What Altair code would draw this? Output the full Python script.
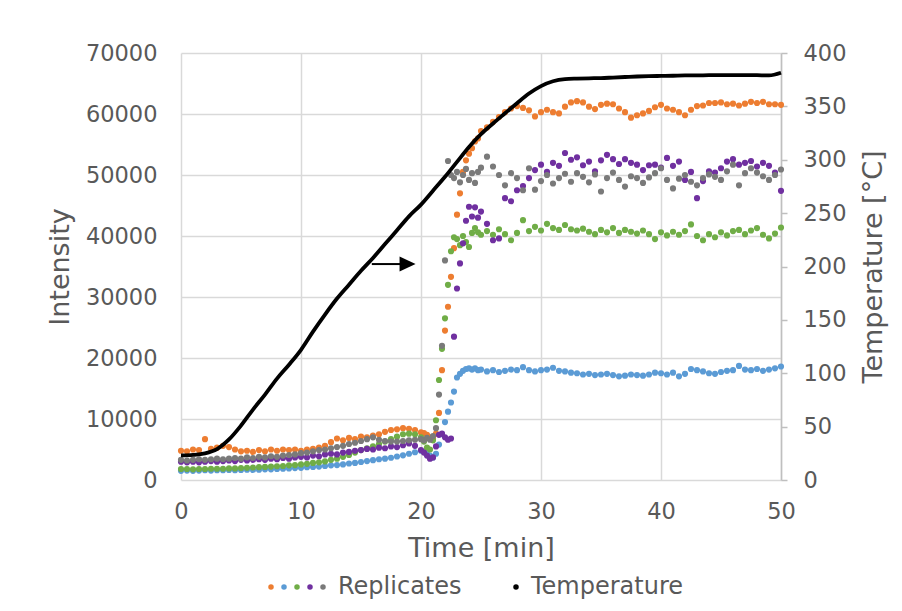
import altair as alt
import pandas as pd

# ---------------- data ----------------
# sampling times of the replicate measurements [min]
times = ([i * 0.5 for i in range(41)]
         + [20.25 + 0.25 * i for i in range(20)]
         + [25.5 + 0.5 * i for i in range(50)])

orange = ([4800, 4700, 5000, 4900, 6700, 5100, 5300, 5600, 5400, 5000,
           4700, 4800, 4600, 4900, 4700, 5000, 4800, 5000, 4900, 5000,
           4800, 5000, 5100, 5300, 5600, 6200, 6800, 6500, 6900, 6700,
           7100, 7000, 7300, 7500, 7900, 8200, 8300, 8500, 8400, 8200,
           7800]
          + [7700, 7400, 7000, 6800, 7600, 11000, 18000, 24500, 28400, 33300,
             38000, 43500, 47000, 50500, 52400, 53500, 54400, 55500, 56000, 57200]
          + [57800, 58700, 59500, 60300, 60900, 61300, 61000, 60600, 59600, 60300,
             60700, 60300, 60100, 61200, 61900, 62100, 61900, 61200, 60800, 61500,
             61700, 61600, 60900, 60300, 59400, 59800, 60100, 60500, 61100, 61500,
             60900, 60700, 60300, 59800, 60700, 61300, 61400, 61800, 61800, 61900,
             61600, 61700, 61400, 61700, 62000, 61800, 62000, 61600, 61600, 61500])

blue = ([1500, 1550, 1500, 1550, 1600, 1550, 1600, 1600, 1650, 1600,
         1650, 1700, 1650, 1700, 1750, 1750, 1800, 1850, 1900, 1950,
         2000, 2100, 2150, 2200, 2300, 2400, 2450, 2550, 2700, 2800,
         2950, 3100, 3250, 3400, 3500, 3650, 3850, 4050, 4300, 4550,
         4800]
        + [4600, 4300, 4000, 3700, 4300, 5800, 7500, 9500, 11200, 12700,
           14500, 16800, 17400, 17900, 18200, 18300, 18100, 18300, 18000, 18100]
        + [17800, 18000, 17700, 17900, 18100, 18000, 18500, 18000, 17800, 18000,
           18100, 18400, 17900, 17800, 17600, 17500, 17300, 17400, 17200, 17300,
           17400, 17200, 17000, 17100, 17300, 17200, 17100, 17300, 17600, 17500,
           17300, 17600, 17000, 17400, 18200, 18000, 17800, 17500, 17400, 17700,
           17900, 18000, 18700, 18100, 18000, 18200, 17900, 18100, 18300, 18600])

green = ([1800, 1800, 1750, 1800, 1800, 1850, 1850, 1850, 1900, 1900,
          1950, 2000, 2050, 2100, 2150, 2200, 2250, 2300, 2400, 2450,
          2550, 2650, 2800, 2900, 3050, 3300, 3500, 3800, 4100, 4500,
          4900, 5200, 5500, 5900, 6300, 6700, 7100, 7500, 7600, 7500,
          7000]
         + [6300, 5300, 5000, 6500, 9800, 16400, 21500, 26500, 32000, 37500,
            39800, 39500, 38500, 40000, 39000, 38200, 40500, 41300, 40600, 40200]
         + [40800, 40200, 41100, 40300, 39300, 40500, 42600, 40800, 41500, 40900,
            42000, 41300, 41000, 41800, 41100, 40900, 41200, 40700, 40300, 41000,
            40600, 41300, 40500, 41000, 40700, 40400, 40900, 40300, 39500, 40600,
            40100, 40700, 40200, 40800, 41900, 40000, 39300, 40300, 39800, 40600,
            40100, 40800, 41000, 40300, 40900, 41300, 40200, 39600, 40400, 41400])

purple = ([3000, 2900, 3000, 2900, 3000, 3100, 3000, 3100, 3200, 3100,
           3300, 3200, 3300, 3400, 3300, 3500, 3400, 3600, 3500, 3700,
           3800, 3700, 4000, 3900, 4200, 4300, 4200, 4500, 4600, 4800,
           4900, 5100, 5000, 5300, 5200, 5500, 5400, 5700, 6000, 5600,
           4900]
          + [4500, 4000, 3500, 3700, 5500, 7400, 7600, 7000, 6600, 6800,
             23500, 31400, 35500, 38800, 42500, 44800, 43200, 44700, 43000, 44000]
          + [42000, 39300, 39600, 46200, 45700, 47500, 48200, 49500, 50800, 51700,
             50500, 52000, 51500, 53600, 52500, 52900, 51600, 52200, 50600, 52400,
             53300, 52600, 51800, 52600, 52000, 51700, 50800, 51600, 51700, 51200,
             52800, 51500, 52200, 49200, 50500, 46200, 49000, 50600, 50400, 51100,
             52200, 52600, 51700, 52000, 52300, 51400, 52000, 51500, 50400, 47400])

gray = ([3300, 3200, 3300, 3400, 3300, 3400, 3500, 3400, 3500, 3600,
         3500, 3700, 3600, 3800, 3700, 3900, 3800, 4000, 4100, 4200,
         4400, 4500, 4700, 4900, 5000, 5200, 5400, 5600, 5900, 6100,
         6400, 6700, 7000, 6600, 6400, 6300, 6300, 6400, 6500, 6600,
         6700]
        + [6500, 6900, 6600, 7200, 8500, 14000, 22000, 36000, 52300, 50000,
           49500, 50500, 48800, 50000, 51000, 49200, 50300, 48700, 50500, 51200]
        + [53000, 51400, 50000, 48300, 50300, 49500, 47500, 51100, 47600, 49000,
           50000, 48600, 49500, 50200, 48900, 50300, 49700, 48800, 50100, 47300,
           49500, 50400, 49200, 48100, 49800, 49500, 48700, 49600, 50300, 51100,
           49200, 47800, 49400, 50000, 48900, 48300, 49500, 50100, 49700, 49200,
           50600, 51700, 48300, 50300, 51100, 50400, 49800, 49200, 50000, 50900])

temp_times = list(range(51))
temperature = [23, 23.5, 25, 29, 38, 51, 66, 80, 95, 108,
               122, 139, 155, 170, 183, 196, 208, 221, 234, 247,
               258, 271, 284, 298, 312, 324, 334, 343.5, 353, 362,
               369, 373.5, 375.5, 376, 376.3, 376.5, 377, 377.5, 378, 378.3,
               378.5, 378.7, 379, 379, 379.2, 379.2, 379.3, 379.3, 379.2, 379, 381.5]

series_names = ["Replicate 1", "Replicate 2", "Replicate 3", "Replicate 4", "Replicate 5"]
series_colors = ["#ED7D31", "#5B9BD5", "#70AD47", "#7030A0", "#7A7A7A"]
x_ticks = [0, 10, 20, 30, 40, 50]
left_ticks = [0, 10000, 20000, 30000, 40000, 50000, 60000, 70000]
right_ticks = [0, 50, 100, 150, 200, 250, 300, 350, 400]

# ---------------- tables ----------------
rows = []
for name, vals in zip(series_names, [orange, blue, green, purple, gray]):
    assert len(vals) == len(times), (name, len(vals))
    for t, v in zip(times, vals):
        rows.append({"t": t, "v": v, "s": name})
df = pd.DataFrame(rows)
temp_df = pd.DataFrame({"t": temp_times, "T": temperature})

# arrow annotation (data coordinates)
arrow_df = pd.DataFrame({"t": [15.9], "t2": [18.3], "v": [35400]})
head_df = pd.DataFrame({"t": [18.88], "v": [35400]})

FONT = "DejaVu Sans"
TXT = "#595959"
GRID = "#D9D9D9"
AXC = "#BFBFBF"

x_enc = alt.X("t:Q", scale=alt.Scale(domain=[0, 50], nice=False),
              axis=alt.Axis(values=x_ticks, title="Time [min]", grid=True,
                            gridColor=GRID, gridWidth=1.5, domain=False, ticks=False,
                            labelPadding=20, labelFlush=False, titleX=300, titleY=68,
                            titleAlign="center", titleBaseline="middle"))
y_left = alt.Y("v:Q", scale=alt.Scale(domain=[0, 70000], nice=False),
               axis=alt.Axis(values=left_ticks, format="d", title="Intensity",
                             grid=True, gridColor=GRID, gridWidth=1.5,
                             domain=False, ticks=False, labelPadding=24, labelFlush=False,
                             titleAngle=270, titleX=-121, titleY=213.5,
                             titleAlign="center", titleBaseline="middle"))

reps = alt.Chart(df).mark_circle(size=38, opacity=1).encode(
    x=x_enc, y=y_left,
    color=alt.Color("s:N", scale=alt.Scale(domain=series_names, range=series_colors), legend=None),
)

shaft = alt.Chart(arrow_df).mark_rule(color="black", strokeWidth=2).encode(
    x=x_enc, x2="t2:Q", y=y_left)
head = alt.Chart(head_df).mark_point(
    shape="M-1,-0.94L1,0L-1,0.94Z", size=256, filled=True, color="black", opacity=1, strokeWidth=0
).encode(x=x_enc, y=y_left)

dummy = pd.DataFrame({"a": [0]})
legend_layers = []
LEG_Y = 534
for px, c in zip([90, 103, 116, 129, 142], series_colors):
    legend_layers.append(alt.Chart(dummy).mark_circle(size=30, color=c, opacity=1).encode(
        x=alt.value(px), y=alt.value(LEG_Y)))
legend_layers.append(alt.Chart(dummy).mark_text(
    text="Replicates", align="left", baseline="middle", font=FONT, fontSize=24, color=TXT
).encode(x=alt.value(157), y=alt.value(LEG_Y)))
legend_layers.append(alt.Chart(dummy).mark_circle(size=30, color="black", opacity=1).encode(
    x=alt.value(335), y=alt.value(LEG_Y)))
legend_layers.append(alt.Chart(dummy).mark_text(
    text="Temperature", align="left", baseline="middle", font=FONT, fontSize=24, color=TXT
).encode(x=alt.value(350), y=alt.value(LEG_Y)))

inner = alt.layer(reps, shaft, head, *legend_layers)

temp = alt.Chart(temp_df).mark_line(color="black", strokeWidth=3.8, interpolate="monotone").encode(
    x=x_enc,
    y=alt.Y("T:Q", scale=alt.Scale(domain=[0, 400], nice=False),
            axis=alt.Axis(orient="right", values=right_ticks, title="Temperature [°C]",
                          grid=False, domain=True, domainColor=AXC, domainWidth=1.5,
                          ticks=True, tickColor=AXC, tickWidth=1.5, tickSize=6,
                          labelPadding=16, labelFlush=False, titleAngle=270, titleX=92,
                          titleY=213.5, titleAlign="center", titleBaseline="middle")),
)

chart = alt.layer(inner, temp).resolve_scale(y="independent").properties(
    width=600, height=427,
    padding={"left": 173, "top": 45, "right": 113, "bottom": 123},
    autosize=alt.AutoSizeParams(type="none"),
).configure_view(strokeWidth=0).configure_axis(
    labelFont=FONT, titleFont=FONT, labelColor=TXT, titleColor=TXT,
    labelFontSize=22.5, titleFontSize=27, titleFontWeight="normal",
)

chart.save("out.html", embed_options={"renderer": "svg", "actions": False})
